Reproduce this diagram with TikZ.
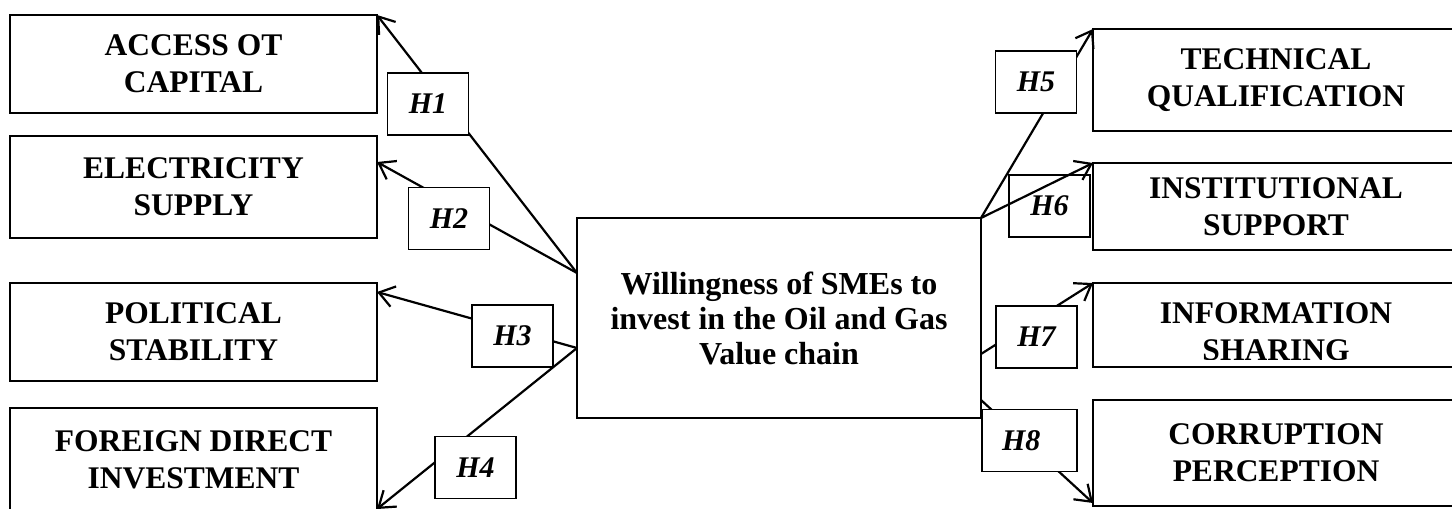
\documentclass[tikz,border=0pt]{standalone}
\usepackage{fontspec}
\setmainfont{Liberation Serif}
\usetikzlibrary{arrows.meta}
\begin{document}
\begin{tikzpicture}[x=1pt,y=-1pt,
  bigbox/.style={draw=black, line width=1.4pt, rectangle, inner sep=0pt, outer sep=0pt, align=center, font=\fontsize{31.5}{37}\selectfont\bfseries},
  hbox/.style={draw=black, fill=white, line width=1.4pt, rectangle, inner sep=0pt, outer sep=0pt, minimum width=81pt, minimum height=62pt, font=\fontsize{30}{34}\selectfont\bfseries\itshape},
  link/.style={line width=2.2pt, -{Straight Barb[length=15pt,width=21pt,line width=2.2pt]}}]
\useasboundingbox (0,0) rectangle (1452,509);
\clip (0,0) rectangle (1452,509);

% left boxes
\node[bigbox, minimum width=367pt, minimum height=98pt] (a1) at (193.5,64) {ACCESS OT\\CAPITAL};
\node[bigbox, minimum width=367pt, minimum height=102pt] (a2) at (193.5,187) {ELECTRICITY\\SUPPLY};
\node[bigbox, minimum width=367pt, minimum height=98pt] (a3) at (193.5,332) {POLITICAL\\STABILITY};
\node[bigbox, minimum width=367pt, minimum height=103pt] (a4) at (193.5,459.5) {FOREIGN DIRECT\\INVESTMENT};

% centre box
\node[bigbox, minimum width=404pt, minimum height=200pt, font=\fontsize{32}{35}\selectfont\bfseries] (c) at (779,318) {Willingness of SMEs to\\invest in the Oil and Gas\\Value chain};

% right boxes
\node[bigbox, minimum width=366pt, minimum height=102pt] (b5) at (1276,80) {TECHNICAL\\QUALIFICATION};
\node[bigbox, minimum width=366pt, minimum height=87pt] (b6) at (1276,206.5) {INSTITUTIONAL\\SUPPORT};
\node[bigbox, minimum width=366pt, minimum height=84pt] (b7) at (1276,325) {};
\begin{scope}
  \clip (1093,283) rectangle (1459,359.5);
  \node[bigbox, draw=none] (b7t) at (1276,331.5) {INFORMATION\\SHARING};
\end{scope}
\node[bigbox, minimum width=366pt, minimum height=106pt] (b8) at (1276,453) {CORRUPTION\\PERCEPTION};

% connectors (behind the hypothesis labels)
\draw[link] ([yshift=45pt]c.west) -- (a1.north east);
\draw[link] ([yshift=45pt]c.west) -- ([yshift=-26pt]a2.north east);
\draw[link] ([yshift=-30pt]c.west) -- ([yshift=-9pt]a3.north east);
\draw[link] ([yshift=-30pt]c.west) -- ([yshift=2pt]a4.south east);
\draw[link] (c.north east) -- (b5.north west);
\node[hbox] (h6) at (1049.5,206) {H6};
\draw[link] (c.north east) -- (b6.north west);
\draw[link] ([yshift=-36pt]c.east) -- (b7.north west);
\draw[link] ([yshift=-82pt]c.east) -- ([yshift=3pt]b8.south west);

% hypothesis labels
\node[hbox] (h1) at (428,104) {H1};
\node[hbox] (h2) at (449,218.5) {H2};
\node[hbox] (h3) at (512.5,336) {H3};
\node[hbox] (h4) at (475.5,467.5) {H4};
\node[hbox] (h5) at (1036,82) {H5};
\node[hbox] (h7) at (1036.5,337) {H7};
\node[hbox, minimum width=95pt] (h8) at (1029.5,440.5) {\makebox[55pt][l]{H8}};
\end{tikzpicture}
\end{document}
